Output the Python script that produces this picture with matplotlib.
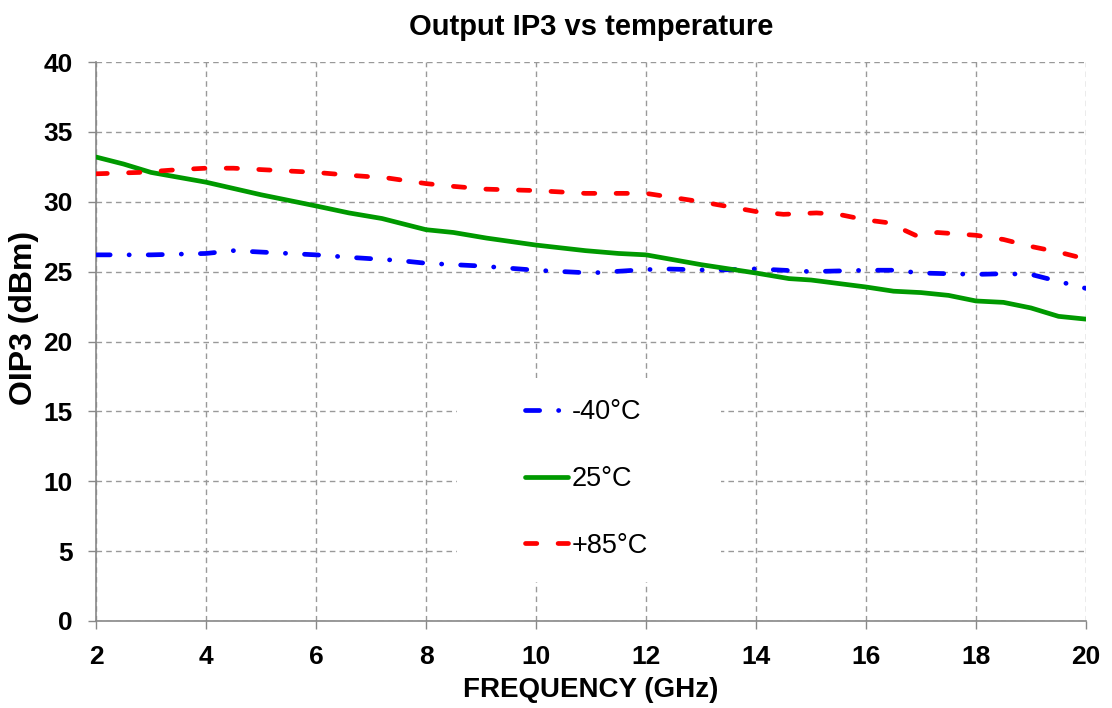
import matplotlib
matplotlib.use("Agg")
import matplotlib.pyplot as plt
from matplotlib.patches import Rectangle

plt.rcParams['font.family'] = ['Liberation Sans', 'DejaVu Sans']

freq_m40 = [2, 3, 4, 4.5, 5, 6, 6.7, 7.5, 8, 8.5, 9, 10, 11, 11.8, 12.3, 13.2, 14, 15, 16, 16.5, 17, 17.5, 18, 18.5, 19, 19.5, 20]
oip3_m40 = [26.2, 26.2, 26.3, 26.5, 26.4, 26.2, 26.0, 25.8, 25.6, 25.5, 25.4, 25.1, 24.9, 25.1, 25.2, 25.1, 25.2, 25.0, 25.1, 25.1, 24.9, 24.85, 24.8, 24.85, 24.8, 24.3, 23.8]

freq_25 = [2, 2.5, 3, 4, 5, 6, 6.6, 7.2, 7.6, 8, 8.5, 9.1, 10, 10.9, 11.5, 12, 13, 14, 14.6, 15, 16, 16.5, 17, 17.5, 18, 18.5, 19, 19.5, 20]
oip3_25 = [33.2, 32.7, 32.1, 31.4, 30.5, 29.7, 29.2, 28.8, 28.4, 28.0, 27.8, 27.4, 26.9, 26.5, 26.3, 26.2, 25.5, 24.9, 24.5, 24.4, 23.9, 23.6, 23.5, 23.3, 22.9, 22.8, 22.4, 21.8, 21.6]

freq_85 = [2, 2.8, 3.5, 4, 4.5, 5, 6, 6.6, 7.3, 8, 8.5, 9.1, 10, 10.9, 12, 13, 14, 14.5, 15.1, 15.5, 16, 16.4, 16.9, 17.3, 18, 18.5, 19, 19.5, 20]
oip3_85 = [32.0, 32.1, 32.3, 32.4, 32.4, 32.3, 32.1, 31.9, 31.7, 31.3, 31.1, 30.9, 30.8, 30.6, 30.6, 30.0, 29.3, 29.1, 29.2, 29.1, 28.7, 28.5, 27.6, 27.8, 27.6, 27.3, 26.8, 26.4, 25.9]

labels = ['-40°C', '25°C', '+85°C']
x_ticks = list(range(2, 21, 2))
y_ticks = list(range(0, 41, 5))

fig = plt.figure(figsize=(11.12, 7.08), dpi=100)
# axes: left 96px, right 1086px, top 62px, bottom 621px
ax = fig.add_axes([96 / 1112, 1 - 621 / 708, 990 / 1112, 559 / 708])

lw = 3.4
ax.plot(freq_m40, oip3_m40, color='#0000FF', lw=lw, dashes=(3.0, 4.0, 0.05, 4.0),
        dash_capstyle='round', label=labels[0], zorder=3)
ax.plot(freq_25, oip3_25, color='#009900', lw=lw, solid_capstyle='round', label=labels[1], zorder=3)
ax.plot(freq_85, oip3_85, color='#FF0000', lw=lw, dashes=(2.4, 4.5),
        dash_capstyle='round', label=labels[2], zorder=3)

ax.set_xlim(2, 20)
ax.set_ylim(0, 40)
ax.set_xticks(x_ticks)
ax.set_yticks(y_ticks)
ax.grid(True, color='#999999', linestyle=(0, (4, 3)), linewidth=1, zorder=1)
ax.set_axisbelow(True)
ax.spines['top'].set_visible(False)
ax.spines['right'].set_visible(False)
for s in ('left', 'bottom'):
    ax.spines[s].set_color('#888888')
    ax.spines[s].set_linewidth(1.2)
ax.tick_params(axis='both', labelsize=19, length=6, color='#888888', width=1, pad=11)
for lbl in ax.get_xticklabels() + ax.get_yticklabels():
    lbl.set_fontweight('bold')

ax.set_title('Output IP3 vs temperature', fontsize=21, fontweight='bold', y=1.063, va='center', pad=0)
ax.set_xlabel('FREQUENCY (GHz)', fontsize=20, fontweight='bold', va='center')
ax.xaxis.set_label_coords(0.5, -0.123)
ax.set_ylabel('OIP3 (dBm)', fontsize=23, fontweight='bold', va='center')
ax.yaxis.set_label_coords(-0.073, 0.542)

# white legend background hiding the grid
ax.add_patch(Rectangle(((457 - 96) / 990, (621 - 582) / 559), (721 - 457) / 990, (582 - 378) / 559,
                       transform=ax.transAxes, facecolor='white', edgecolor='none', zorder=2))

leg = ax.legend(loc='center left', bbox_to_anchor=((525 - 96) / 990, (621 - 479) / 559),
                frameon=False, prop={'size': 19.5}, labelspacing=1.5, handlelength=1.6,
                handletextpad=0.12, borderpad=0, borderaxespad=0)
leg.set_zorder(4)

fig.savefig('out.png', dpi=100)
